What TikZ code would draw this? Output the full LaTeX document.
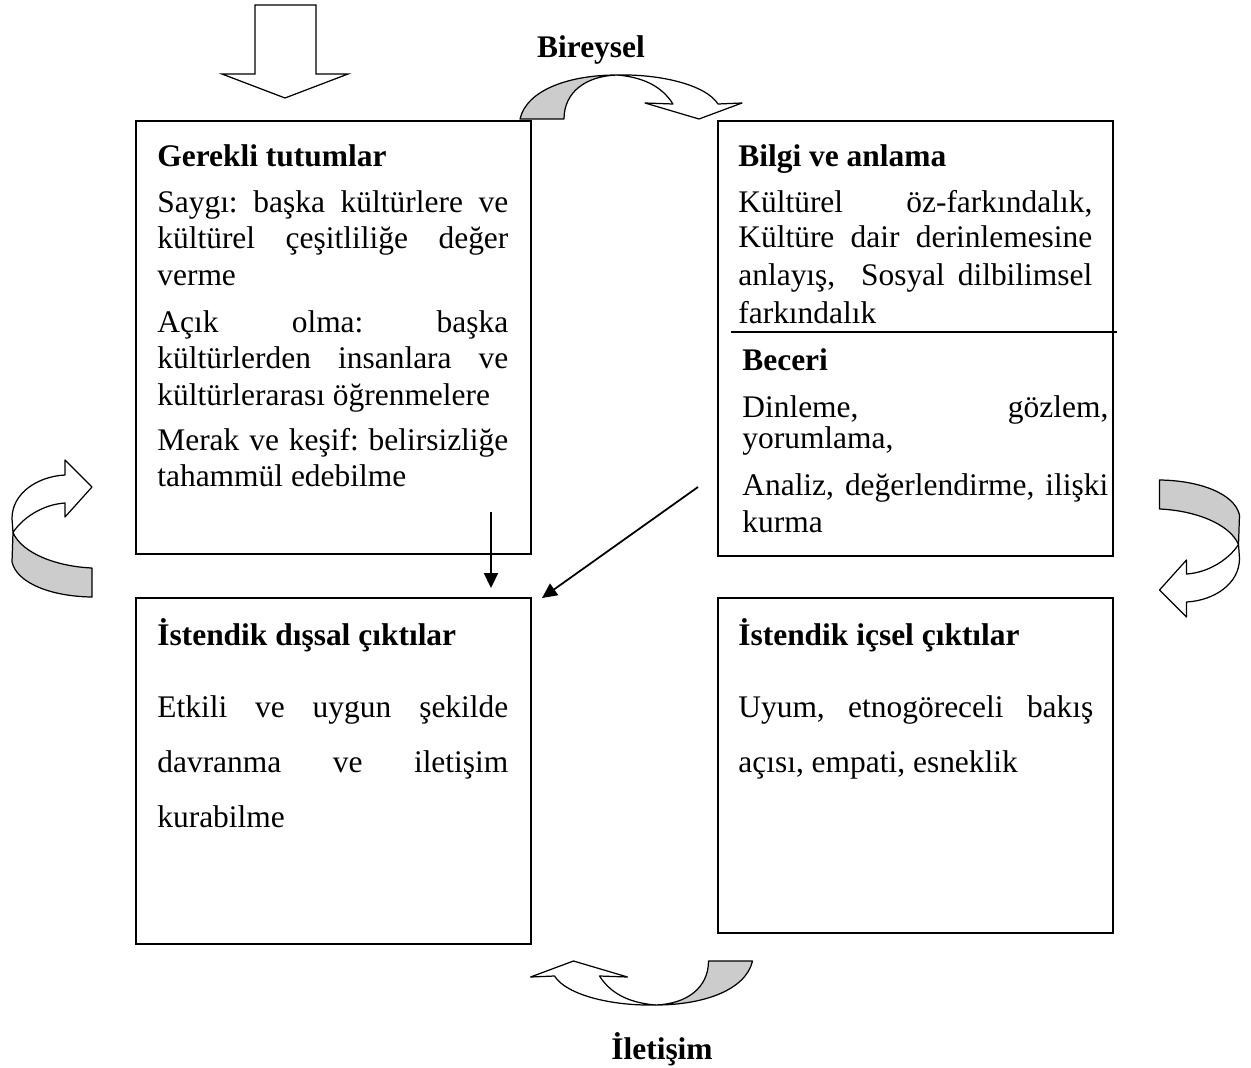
\documentclass[tikz,border=0pt]{standalone}
\usepackage{fontspec}
\setmainfont{Liberation Serif}
\usetikzlibrary{arrows.meta}
\frenchspacing
\newlength\pxu
\setlength\pxu{0.02cm}
\newcommand\fs{\fontsize{17.9}{21}\selectfont\frenchspacing}
\newcommand\jl[2]{\makebox[#1\pxu][s]{#2}}
\tikzset{
  txt/.style={anchor=base west, inner sep=0pt, font=\fs},
  ttl/.style={anchor=base west, inner sep=0pt, font=\fs\bfseries},
  lbl/.style={inner sep=0pt, font=\fs\bfseries},
  boxst/.style={draw, line width=0.9pt, anchor=north west, inner sep=0pt},
  ribbon/.style={draw, line width=0.7pt, line join=round},
  grayfill/.style={ribbon, fill=black!20},
  whitefill/.style={ribbon, fill=white},
  arr/.style={line width=1pt, -{Triangle[length=8.5pt, width=8pt]}}
}
\begin{document}
\begin{tikzpicture}[x=0.02cm, y=-0.02cm]
\useasboundingbox (0,0) rectangle (1251,1068);

% boxes
\node[boxst, minimum width=395\pxu, minimum height=433\pxu] (A) at (135,120) {};
\node[boxst, minimum width=395\pxu, minimum height=435\pxu] (B) at (717,120) {};
\node[boxst, minimum width=395\pxu, minimum height=346\pxu] (C) at (135,597) {};
\node[boxst, minimum width=395\pxu, minimum height=335\pxu] (D) at (717,597) {};

% divider in box B
\coordinate (dl) at (731,332);
\coordinate (dr) at (1117,332);
\draw[line width=0.9pt] (dl) -- (dr);

% Box A text
\node[ttl] (a0) at (157,167) {Gerekli tutumlar};
\node[txt] (a1) at (157,212) {\jl{351}{Saygı: başka kültürlere ve}};
\node[txt] (a2) at (157,248) {\jl{351}{kültürel çeşitliliğe değer}};
\node[txt] (a3) at (157,285) {verme};
\node[txt] (a4) at (157,332) {\jl{351}{Açık olma: başka}};
\node[txt] (a5) at (157,368) {\jl{351}{kültürlerden insanlara ve}};
\node[txt] (a6) at (157,405) {kültürlerarası öğrenmelere};
\node[txt] (a7) at (157,450) {\jl{351}{Merak ve keşif: belirsizliğe}};
\node[txt] (a8) at (157,486) {tahammül edebilme};

% Box B text
\node[ttl] (b0) at (738,167) {Bilgi ve anlama};
\node[txt] (b1) at (738,212) {\jl{354}{Kültürel öz-farkındalık,}};
\node[txt] (b2) at (738,247) {\jl{354}{Kültüre dair derinlemesine}};
\node[txt] (b3) at (738,285) {\jl{354}{anlayış,\ \ Sosyal dilbilimsel}};
\node[txt] (b4) at (738,323) {farkındalık};
\node[ttl] (b5) at (742,370) {Beceri};
\node[txt] (b6) at (742,417) {\jl{366}{Dinleme, gözlem,}};
\node[txt] (b7) at (742,448) {yorumlama,};
\node[txt] (b8) at (742,495) {\jl{366}{Analiz, değerlendirme, ilişki}};
\node[txt] (b9) at (742,532) {kurma};

% Box C text
\node[ttl] (c0) at (157,645) {İstendik dışsal çıktılar};
\node[txt] (c1) at (157,717) {\jl{351}{Etkili ve uygun şekilde}};
\node[txt] (c2) at (157,772) {\jl{351}{davranma ve iletişim}};
\node[txt] (c3) at (157,827) {kurabilme};

% Box D text
\node[ttl] (d0) at (738,645) {İstendik içsel çıktılar};
\node[txt] (d1) at (738,717) {\jl{355}{Uyum, etnogöreceli bakış}};
\node[txt] (d2) at (738,772) {açısı, empati, esneklik};

% labels
\node[lbl] (bir) at (591,50) {Bireysel};
\node[lbl] (ile) at (662,1049) {İletişim};

% top block arrow
\draw[ribbon, fill=white, line join=miter] (255,5) -- (316,5) -- (316,74) -- (348,74) -- (285,98) -- (222,74) -- (255,74) -- cycle;

% straight arrows
\coordinate (v1) at (491,512);
\coordinate (v2) at (491,588);
\draw[arr] (v1) -- (v2);
\coordinate (g1) at (698,487);
\coordinate (g2) at (542,598);
\draw[arr] (g1) -- (g2);

% horizontal ribbon (Bireysel) and its rotated copy (Iletisim)
\foreach \cx/\cy/\rot in {631/97/0, 641.5/983/180}{
\begin{scope}[shift={(\cx,\cy)}, rotate=\rot]
  \draw[grayfill] (-111,22) .. controls (-104,-8) and (-60,-22) .. (-14,-22)
     .. controls (-45,-21) and (-67,-5) .. (-67,22) -- cycle;
  \draw[whitefill] (-14,-22) .. controls (30,-23) and (75,-12) .. (87,7)
     -- (111,6) -- (68,22) -- (14,6) -- (42,7)
     .. controls (30,-12) and (10,-20) .. (-14,-22) -- cycle;
\end{scope}
}

% vertical ribbon (left) and its rotated copy (right)
\foreach \cx/\cy/\rot in {52/528.5/0, 1199.5/548.5/180}{
\begin{scope}[shift={(\cx,\cy)}, rotate=\rot]
  \draw[grayfill] (-39,4) -- (-40,33.5) .. controls (-35,55) and (0,68) .. (40,68.5)
     -- (40,39.5) .. controls (5,38) and (-30,25) .. (-39,4) -- cycle;
  \draw[whitefill] (-39,4) -- (-40,-10) .. controls (-40,-35) and (-15,-52) .. (13,-53.5)
     -- (13,-68.5) -- (40,-41.5) -- (13,-11.5) -- (13,-25.5)
     .. controls (-10,-24) and (-30,-10) .. (-39,4) -- cycle;
\end{scope}
}
\end{tikzpicture}
\end{document}
